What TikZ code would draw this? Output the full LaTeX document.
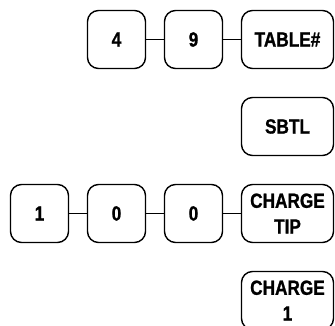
\documentclass[tikz,border=0pt]{standalone}
\usepackage{fontspec}
\usetikzlibrary{positioning}
\newfontfamily\keyfont{Liberation Sans}[FakeStretch=0.84, BoldFeatures={FakeBold=1}]

\begin{document}
\begin{tikzpicture}[
    x=1pt, y=1pt,
    node distance=29pt and 19pt,
    keybox/.style={draw, line width=1.4pt, rounded corners=11pt, minimum width=58pt, minimum height=58pt,
        inner sep=0pt, outer sep=0pt, align=center, font=\keyfont\bfseries\fontsize{20.5}{25.7}\selectfont},
    widekey/.style={keybox, minimum width=92pt},
    link/.style={line width=1.2pt}
]
    \useasboundingbox (0,0) rectangle (335,326);
    \clip (0,0) rectangle (335,326);

    % function keys
    \node[widekey] (table) at (287.5,286.5) {TABLE\#};
    \node[widekey, below=of table] (sbtl) {SBTL};
    \node[widekey, below=of sbtl] (tip) {CHARGE\\TIP};
    \node[widekey, below=of tip] (charge) {CHARGE\\1};

    % numeric keys
    \node[keybox, left=of table] (nine) {9};
    \node[keybox, left=of nine] (four) {4};
    \node[keybox, left=of tip] (zeroB) {0};
    \node[keybox, left=of zeroB] (zeroA) {0};
    \node[keybox, left=of zeroA] (one) {1};

    \draw[link] (four) -- (nine) (nine) -- (table);
    \draw[link] (one) -- (zeroA) (zeroA) -- (zeroB) (zeroB) -- (tip);
\end{tikzpicture}
\end{document}
